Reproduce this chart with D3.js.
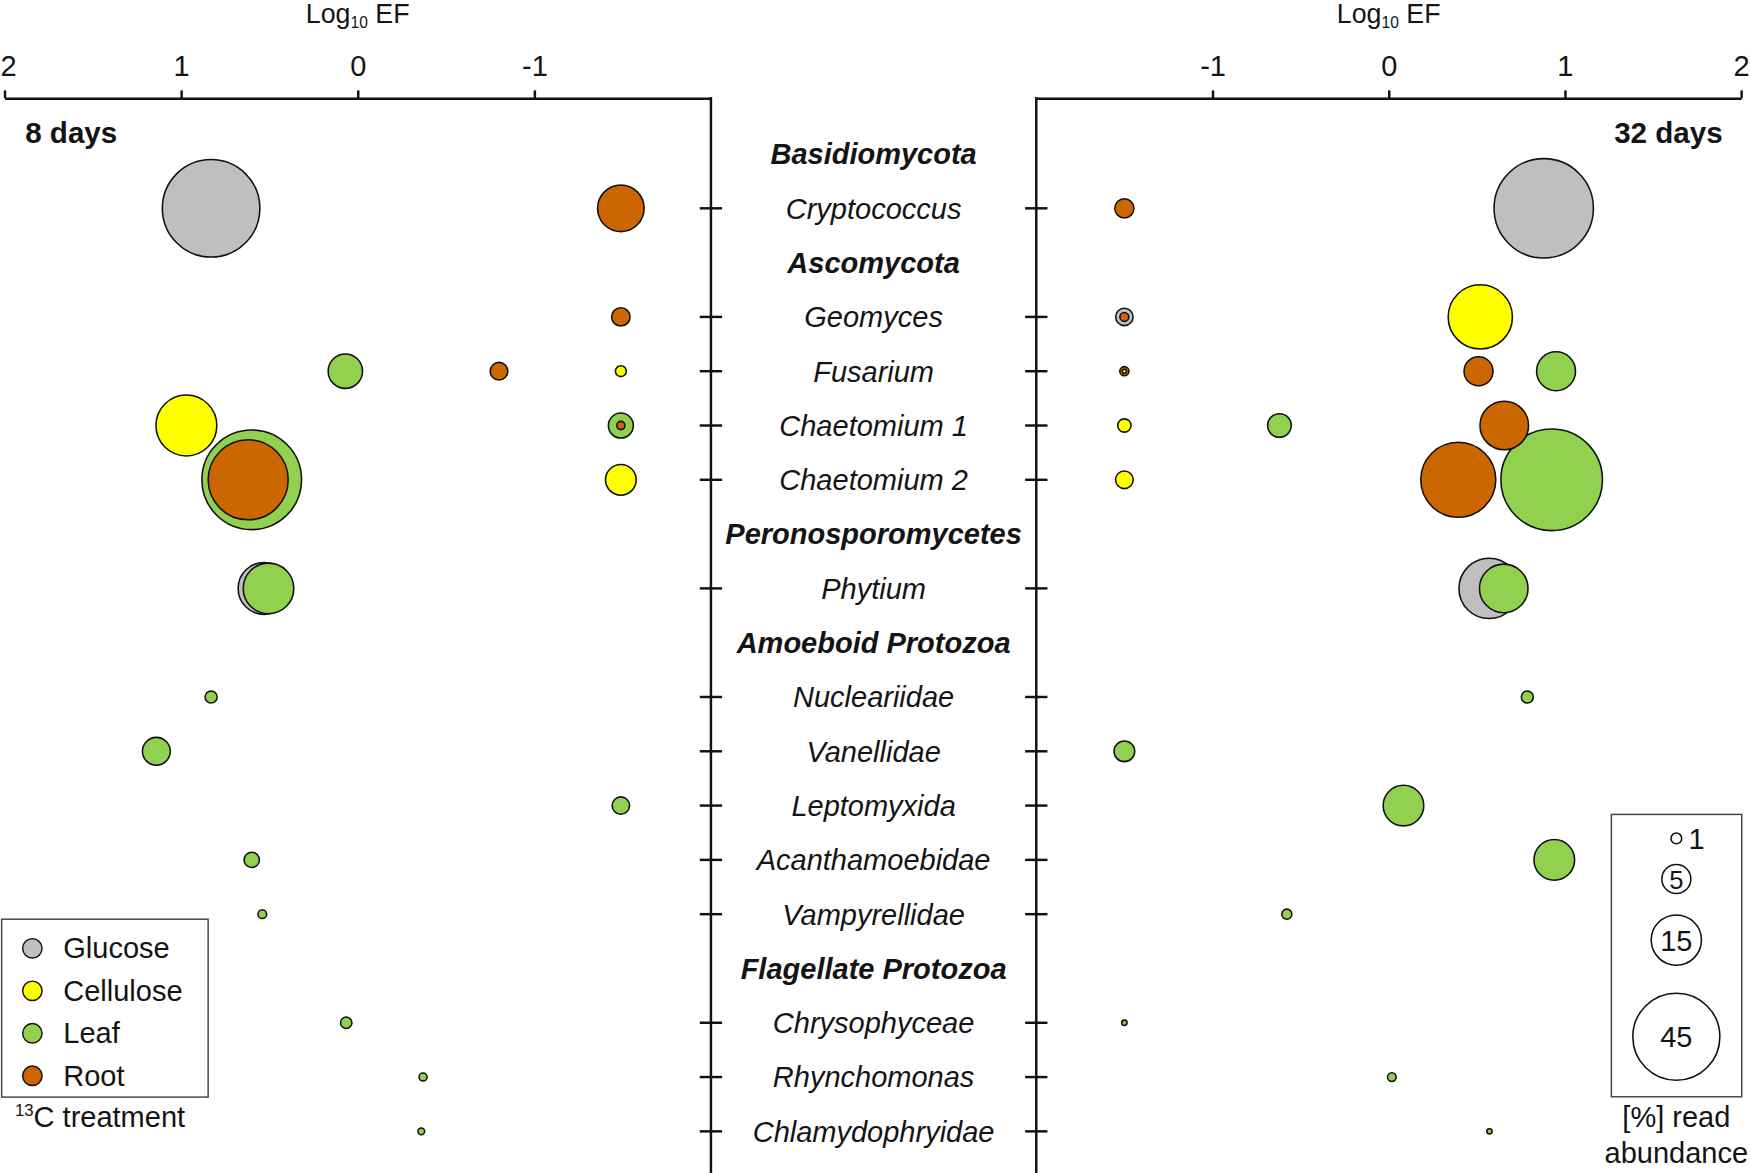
<!DOCTYPE html>
<html lang="en">
<head>
<meta charset="utf-8">
<title>Log10 EF bubble chart</title>
<script src="https://d3js.org/d3.v7.min.js"></script>
<style>
  body { margin: 0; background: #fff; }
  text { font-family: "Liberation Sans", Arial, sans-serif; fill: #141414; }
</style>
</head>
<body>
<div id="chart"></div>
<script>
// rows in the middle column (group headers + taxa)
var rows = ["Basidiomycota", "Cryptococcus", "Ascomycota", "Geomyces", "Fusarium",
  "Chaetomium 1", "Chaetomium 2", "Peronosporomycetes", "Phytium", "Amoeboid Protozoa",
  "Nucleariidae", "Vanellidae", "Leptomyxida", "Acanthamoebidae", "Vampyrellidae",
  "Flagellate Protozoa", "Chrysophyceae", "Rhynchomonas", "Chlamydophryidae"];
var groups = ["Basidiomycota", "Ascomycota", "Peronosporomycetes", "Amoeboid Protozoa", "Flagellate Protozoa"];

var treatments = ["Glucose", "Cellulose", "Leaf", "Root"];
var treatColors = ["#bfbfbf", "#ffff00", "#92d050", "#cc6600"];

// 8 days
var d8Taxa = ["Cryptococcus", "Cryptococcus", "Geomyces", "Fusarium", "Fusarium", "Fusarium",
  "Chaetomium 1", "Chaetomium 1", "Chaetomium 1", "Chaetomium 2", "Chaetomium 2", "Chaetomium 2",
  "Phytium", "Phytium", "Nucleariidae", "Vanellidae", "Leptomyxida", "Acanthamoebidae",
  "Vampyrellidae", "Chrysophyceae", "Rhynchomonas", "Chlamydophryidae"];
var d8Treat = ["Glucose", "Root", "Root", "Leaf", "Root", "Cellulose",
  "Cellulose", "Leaf", "Root", "Leaf", "Root", "Cellulose",
  "Glucose", "Leaf", "Leaf", "Leaf", "Leaf", "Leaf",
  "Leaf", "Leaf", "Leaf", "Leaf"];
var d8LogEF = [0.83, -1.49, -1.49, 0.07, -0.80, -1.49,
  0.97, -1.49, -1.49, 0.60, 0.62, -1.49,
  0.53, 0.505, 0.83, 1.14, -1.49, 0.60,
  0.54, 0.065, -0.37, -0.36];
var d8Abund = [56.5, 12.9, 2.0, 7.0, 1.85, 0.7,
  22, 3.7, 0.4, 59, 38, 5.6,
  16, 15.2, 0.86, 4.6, 1.8, 1.4,
  0.45, 0.77, 0.38, 0.27];

// 32 days
var d32Taxa = ["Cryptococcus", "Cryptococcus", "Geomyces", "Geomyces", "Geomyces",
  "Fusarium", "Fusarium", "Fusarium", "Fusarium",
  "Chaetomium 1", "Chaetomium 1", "Chaetomium 1", "Chaetomium 2", "Chaetomium 2", "Chaetomium 2",
  "Phytium", "Phytium", "Nucleariidae", "Vanellidae", "Leptomyxida", "Acanthamoebidae",
  "Vampyrellidae", "Chrysophyceae", "Rhynchomonas", "Chlamydophryidae"];
var d32Treat = ["Root", "Glucose", "Glucose", "Root", "Cellulose",
  "Root", "Cellulose", "Root", "Leaf",
  "Cellulose", "Leaf", "Root", "Cellulose", "Root", "Leaf",
  "Glucose", "Leaf", "Leaf", "Leaf", "Leaf", "Leaf",
  "Leaf", "Leaf", "Leaf", "Leaf"];
var d32LogEF = [-1.50, 0.88, -1.50, -1.50, 0.52,
  -1.50, -1.50, 0.51, 0.95,
  -1.50, -0.62, 0.656, -1.50, 0.395, 0.925,
  0.57, 0.653, 0.787, -1.50, 0.084, 0.94,
  -0.578, -1.50, 0.018, 0.572];
var d32Abund = [2.2, 58.6, 1.8, 0.47, 24.5,
  0.5, 0.1, 5.0, 9.0,
  1.05, 3.3, 14, 1.85, 33.4, 61.3,
  21.6, 14, 0.86, 2.55, 9.8, 9.8,
  0.6, 0.17, 0.45, 0.17];

var sizeLegend = [1, 5, 15, 45];
var leftTicks = [2, 1, 0, -1];
var rightTicks = [-1, 0, 1, 2];

// drawing units (scaled to the 1750x1173 page through the viewBox)
var W = 1568, H = 1051;
var axisY = 88;
var leftLine = 637, rightLine = 928.5;

var svg = d3.select("#chart").append("svg")
  .attr("width", 1750).attr("height", 1173)
  .attr("viewBox", "0 0 " + W + " " + H);

var xLeft = d3.scaleLinear().domain([2, -2]).range([4, leftLine]);
var xRight = d3.scaleLinear().domain([-2, 2]).range([rightLine, 1560]);
var y = d3.scalePoint().domain(rows).range([138, 1013.7]);
var r = d3.scaleSqrt().domain([0, 45]).range([0, 39]);
var color = d3.scaleOrdinal().domain(treatments).range(treatColors);

var taxa = rows.filter(function(d) { return groups.indexOf(d) < 0; });

// top axes
function topAxis(scale, ticks, cx) {
  var g = svg.append("g")
    .attr("transform", "translate(0," + axisY + ")")
    .call(d3.axisTop(scale).tickValues(ticks).tickSize(7).tickSizeOuter(0)
      .tickPadding(13).tickFormat(function(d) { return String(d); }));
  g.select(".domain").attr("stroke", "#111").attr("stroke-width", 2.2);
  g.selectAll(".tick line").attr("stroke", "#111").attr("stroke-width", 2.2);
  g.selectAll(".tick text").attr("font-size", 26).attr("fill", "#141414")
    .attr("font-family", "Liberation Sans, Arial, sans-serif");
  // keep the edge label inside the page
  g.selectAll(".tick text").filter(function(d) { return scale(d) < 10; })
    .attr("text-anchor", "start").attr("x", -4);

  var t = svg.append("text").attr("x", cx).attr("y", 20.5)
    .attr("text-anchor", "middle").attr("font-size", 24);
  t.append("tspan").text("Log");
  t.append("tspan").attr("font-size", 14).attr("dy", 5).text("10");
  t.append("tspan").attr("dy", -5).text(" EF");
}
topAxis(xLeft, leftTicks, xLeft(0));
topAxis(xRight, rightTicks, xRight(0));

// vertical lines with crossing ticks
[leftLine, rightLine].forEach(function(x) {
  svg.append("line").attr("x1", x).attr("x2", x).attr("y1", axisY - 1).attr("y2", H)
    .attr("stroke", "#111").attr("stroke-width", 2.2);
  svg.append("g").selectAll("line").data(taxa).join("line")
    .attr("x1", x - 10).attr("x2", x + 10)
    .attr("y1", function(d) { return y(d); })
    .attr("y2", function(d) { return y(d); })
    .attr("stroke", "#111").attr("stroke-width", 2.2);
});

// middle labels
svg.append("g").selectAll("text").data(rows).join("text")
  .attr("x", (leftLine + rightLine) / 2)
  .attr("y", function(d) { return y(d) + 9.3; })
  .attr("text-anchor", "middle")
  .attr("font-size", 26)
  .attr("font-style", "italic")
  .attr("font-weight", function(d) { return groups.indexOf(d) >= 0 ? "bold" : "normal"; })
  .text(function(d) { return d; });

// panel titles
svg.append("text").attr("x", 22.6).attr("y", 128).attr("font-size", 26.5)
  .attr("font-weight", "bold").text("8 days");
svg.append("text").attr("x", 1543.5).attr("y", 128).attr("font-size", 26.5)
  .attr("font-weight", "bold").attr("text-anchor", "end").text("32 days");

// bubbles
function bubbles(taxaArr, treatArr, efArr, abArr, x) {
  var pts = taxaArr.map(function(t, i) {
    return { taxon: t, treat: treatArr[i], ef: efArr[i], ab: abArr[i] };
  });
  pts.sort(function(a, b) { return b.ab - a.ab; });
  svg.append("g").selectAll("circle").data(pts).join("circle")
    .attr("cx", function(d) { return x(d.ef); })
    .attr("cy", function(d) { return y(d.taxon); })
    .attr("r", function(d) { return r(d.ab); })
    .attr("fill", function(d) { return color(d.treat); })
    .attr("stroke", "#111")
    .attr("stroke-width", 1.4);
}
bubbles(d8Taxa, d8Treat, d8LogEF, d8Abund, xLeft);
bubbles(d32Taxa, d32Treat, d32LogEF, d32Abund, xRight);

// treatment legend
var leg = svg.append("g");
leg.append("rect").attr("x", 1.5).attr("y", 823.6).attr("width", 185).attr("height", 159.4)
  .attr("fill", "none").attr("stroke", "#444").attr("stroke-width", 1.3);
var legY = d3.scalePoint().domain(treatments).range([849.7, 963.9]);
leg.selectAll("circle").data(treatments).join("circle")
  .attr("cx", 29).attr("cy", function(d) { return legY(d); }).attr("r", 8.7)
  .attr("fill", function(d) { return color(d); })
  .attr("stroke", "#111").attr("stroke-width", 1.3);
leg.selectAll("text").data(treatments).join("text")
  .attr("x", 56.7).attr("y", function(d) { return legY(d) + 9; })
  .attr("font-size", 26).text(function(d) { return d; });
var tt = svg.append("text").attr("x", 13.4).attr("y", 1009.5).attr("font-size", 26);
tt.append("tspan").attr("font-size", 15).attr("dy", -10).text("13");
tt.append("tspan").attr("dy", 10).text("C treatment");

// size legend
var sl = svg.append("g");
sl.append("rect").attr("x", 1443.8).attr("y", 729.7).attr("width", 116.8).attr("height", 253)
  .attr("fill", "none").attr("stroke", "#444").attr("stroke-width", 1.3);
var slY = d3.scaleOrdinal().domain(sizeLegend).range([751.2, 787.6, 842.3, 928.9]);
sl.selectAll("circle").data(sizeLegend).join("circle")
  .attr("cx", 1502).attr("cy", function(d) { return slY(d); })
  .attr("r", function(d) { return d === 1 ? 4.8 : r(d); })
  .attr("fill", "#fff").attr("stroke", "#111").attr("stroke-width", 1.4);
sl.selectAll("text").data(sizeLegend).join("text")
  .attr("x", function(d) { return d === 1 ? 1513 : 1502; })
  .attr("y", function(d) { return slY(d) + (d === 5 ? 8.5 : 9.5); })
  .attr("text-anchor", function(d) { return d === 1 ? "start" : "middle"; })
  .attr("font-size", function(d) { return d === 5 ? 23 : 26; })
  .text(function(d) { return d; });
svg.append("text").attr("x", 1502).attr("y", 1009.5).attr("text-anchor", "middle")
  .attr("font-size", 26).text("[%] read");
svg.append("text").attr("x", 1502).attr("y", 1042).attr("text-anchor", "middle")
  .attr("font-size", 26).text("abundance");
</script>
</body>
</html>
